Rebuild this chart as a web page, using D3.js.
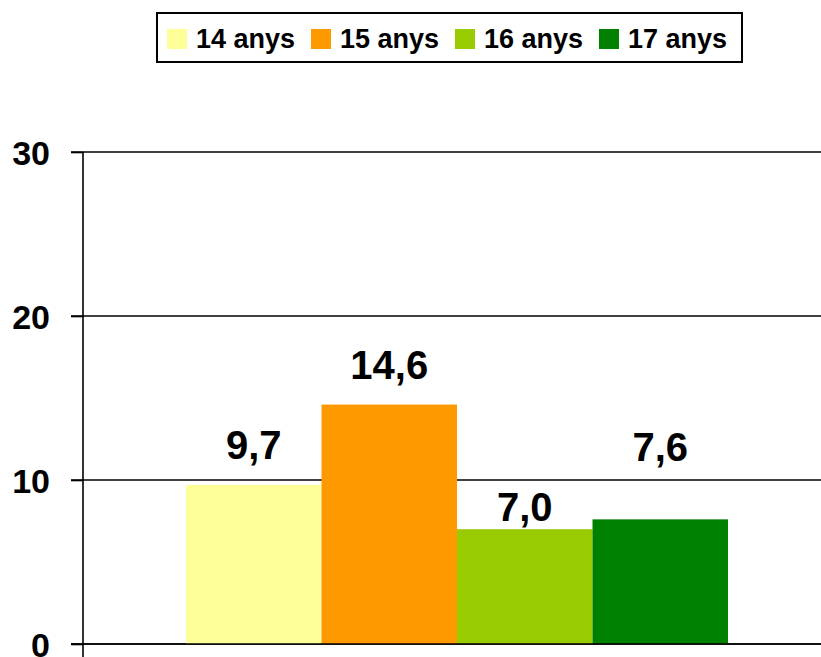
<!DOCTYPE html>
<html>
<head>
<meta charset="utf-8">
<script src="https://cdn.jsdelivr.net/npm/d3@7"></script>
<style>
  html, body { margin: 0; padding: 0; background: #fff; }
  svg { display: block; font-family: "Liberation Sans", Arial, sans-serif; }
</style>
</head>
<body>
<svg id="chart" width="821" height="657"></svg>
<script>
// ---- Data ----
const categories = ["14 anys", "15 anys", "16 anys", "17 anys"];
const values = [9.7, 14.6, 7.0, 7.6];
const valueLabels = ["9,7", "14,6", "7,0", "7,6"];
const yTicks = [0, 10, 20, 30];
const colors = ["#FFFF99", "#FF9900", "#99CC00", "#008000"];
// label lift above bar top (style, px)
const labelLift = [26, 26, 8, 58];

const svg = d3.select("#chart");

// ---- Scales ----
const y = d3.scaleLinear().domain([0, 30]).range([644, 152]);
const x = d3.scaleBand().domain(categories).range([186, 728]).padding(0);
const axisX = 83, plotRight = 821;

// ---- Gridlines ----
svg.append("g").selectAll("line").data(yTicks).join("line")
  .attr("x1", axisX - 12).attr("x2", plotRight)
  .attr("y1", d => y(d)).attr("y2", d => y(d))
  .attr("stroke", "#000").attr("stroke-width", 1.6);

// ---- Bars ----
svg.append("g").selectAll("rect").data(values).join("rect")
  .attr("x", (d, i) => x(categories[i]))
  .attr("width", x.bandwidth())
  .attr("y", d => y(d))
  .attr("height", d => y(0) - y(d))
  .attr("fill", (d, i) => colors[i]);

// baseline redraw on top
svg.append("line")
  .attr("x1", axisX - 12).attr("x2", plotRight)
  .attr("y1", y(0)).attr("y2", y(0))
  .attr("stroke", "#000").attr("stroke-width", 1.6);

// ---- Y axis ----
const yAxis = d3.axisLeft(y).tickValues(yTicks).tickSize(12).tickPadding(0).tickFormat(d3.format("d"));
const ag = svg.append("g").attr("transform", `translate(${axisX},0)`).call(yAxis);
ag.select(".domain").remove();
ag.selectAll(".tick line").attr("stroke", "#000").attr("stroke-width", 1.6);
ag.selectAll(".tick text")
  .attr("x", -33).attr("dy", "0.36em")
  .attr("font-size", 34).attr("font-weight", "bold").attr("fill", "#000")
  .attr("font-family", "Liberation Sans, Arial, sans-serif");
svg.append("line")
  .attr("x1", axisX).attr("x2", axisX)
  .attr("y1", y(30)).attr("y2", 657)
  .attr("stroke", "#000").attr("stroke-width", 1.6);

// ---- Value labels ----
svg.append("g").selectAll("text").data(values).join("text")
  .attr("x", (d, i) => x(categories[i]) + x.bandwidth() / 2)
  .attr("y", (d, i) => y(d) - labelLift[i])
  .attr("text-anchor", "middle")
  .attr("font-size", 40).attr("font-weight", "bold").attr("fill", "#000")
  .text((d, i) => valueLabels[i]);

// ---- Legend ----
const lg = svg.append("g");
lg.append("rect").attr("x", 157).attr("y", 13).attr("width", 585).attr("height", 49)
  .attr("fill", "#fff").attr("stroke", "#000").attr("stroke-width", 2);
const items = lg.selectAll("g.item").data(categories).join("g")
  .attr("class", "item")
  .attr("transform", (d, i) => `translate(${167 + i * 144},0)`);
items.append("rect").attr("x", 0).attr("y", 29).attr("width", 20).attr("height", 20)
  .attr("fill", (d, i) => colors[i]);
items.append("text").attr("x", 29).attr("y", 48)
  .attr("font-size", 27).attr("font-weight", "bold").attr("fill", "#000")
  .text(d => d);
</script>
</body>
</html>
